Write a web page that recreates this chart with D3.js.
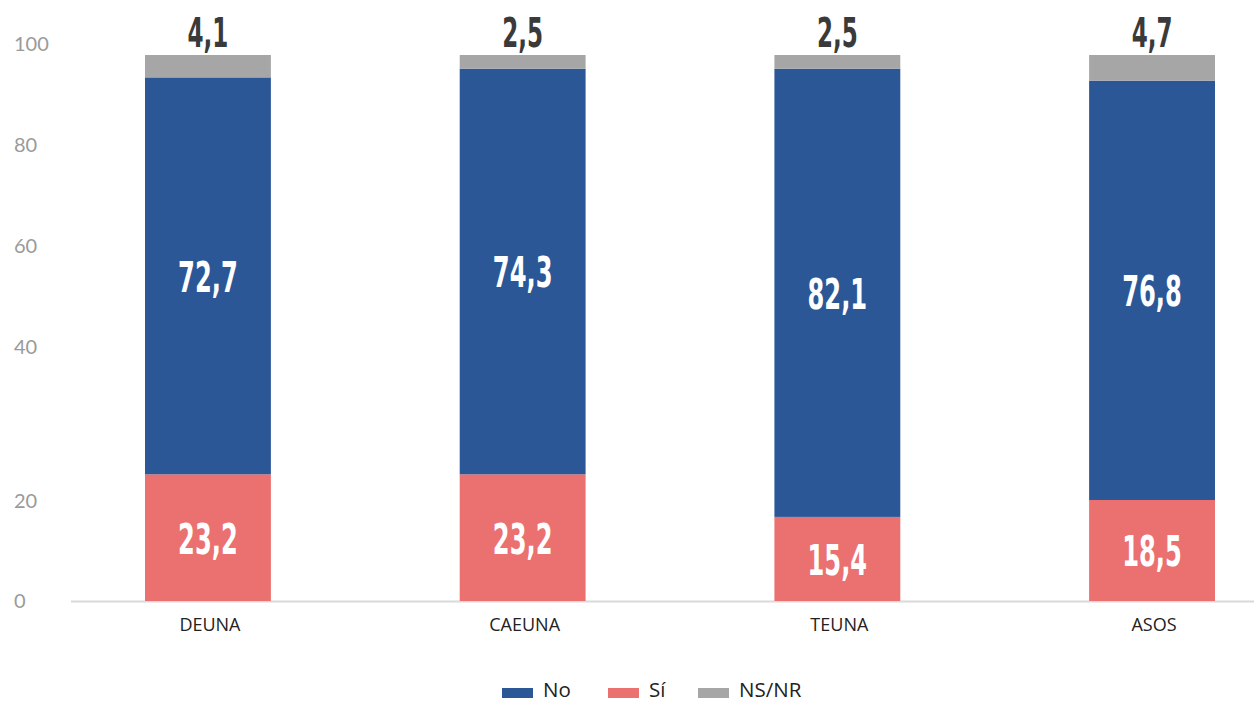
<!DOCTYPE html>
<html>
<head>
<meta charset="utf-8">
<script src="https://cdn.jsdelivr.net/npm/d3@7"></script>
<style>
  html, body { margin: 0; padding: 0; background: #fff; }
  svg { display: block; }
</style>
</head>
<body>
<svg id="chart" width="1254" height="704"></svg>
<script>
// Survey answers per group, in percent
const categories = ["DEUNA", "CAEUNA", "TEUNA", "ASOS"];
const siValues   = [23.2, 23.2, 15.4, 18.5];
const noValues   = [72.7, 74.3, 82.1, 76.8];
const nsnrValues = [4.1, 2.5, 2.5, 4.7];
const seriesNames = ["No", "Sí", "NS/NR"];
const yTickLabels = [0, 20, 40, 60, 80, 100];

const colors = { "Sí": "#eb7070", "No": "#2b5797", "NS/NR": "#a6a6a6" };

const rows = categories.map((c, i) => ({
  cat: c, "Sí": siValues[i], "No": noValues[i], "NS/NR": nsnrValues[i]
}));

// stacking order bottom to top: Sí, No, NS/NR
const stack = d3.stack().keys(["Sí", "No", "NS/NR"]);
const layers = stack(rows);

const svg = d3.select("#chart");

const x = d3.scaleBand()
  .domain(categories)
  .range([50.6, 1309.4])
  .paddingInner(0.6)
  .paddingOuter(0.3);

const y = d3.scaleLinear().domain([0, 100]).range([601, 55]);

// value-axis labels sit on their own (uneven) guide positions
const yLabel = d3.scaleLinear()
  .domain(yTickLabels)
  .range([601, 501, 347, 246, 145, 44]);

const valueFont = "'DejaVu Sans Condensed', 'DejaVu Sans', sans-serif";
const squeeze = 0.64;
const fmt = v => String(v).replace(".", ",");

// y tick labels
svg.append("g")
  .selectAll("text")
  .data(yTickLabels)
  .join("text")
  .attr("x", 14)
  .attr("y", d => yLabel(d))
  .attr("dy", "0.35em")
  .attr("font-family", "Lato, 'Open Sans', sans-serif")
  .attr("font-size", 20)
  .attr("fill", "#9a9a9a")
  .text(d => d);

// baseline
svg.append("line")
  .attr("x1", 71).attr("x2", 1254)
  .attr("y1", y(0) + 0.5).attr("y2", y(0) + 0.5)
  .attr("stroke", "#d9d9d9")
  .attr("stroke-width", 2);

// bars
const layerG = svg.append("g")
  .selectAll("g")
  .data(layers)
  .join("g")
  .attr("fill", d => colors[d.key]);

layerG.selectAll("rect")
  .data(d => d)
  .join("rect")
  .attr("x", d => x(d.data.cat))
  .attr("width", x.bandwidth())
  .attr("y", d => y(d[1]))
  .attr("height", d => y(d[0]) - y(d[1]));

// labels inside Sí and No segments
layers.filter(l => l.key !== "NS/NR").forEach(l => {
  svg.append("g")
    .selectAll("text")
    .data(l)
    .join("text")
    .attr("transform", d => {
      const cx = x(d.data.cat) + x.bandwidth() / 2;
      const cy = (y(d[0]) + y(d[1])) / 2 + 16;
      return `translate(${cx},${cy}) scale(${squeeze},1)`;
    })
    .attr("text-anchor", "middle")
    .attr("font-family", valueFont)
    .attr("font-weight", "bold")
    .attr("font-size", 42)
    .attr("fill", "#ffffff")
    .text(d => fmt(d.data[l.key]));
});

// NS/NR labels above each bar
const topLayer = layers.find(l => l.key === "NS/NR");
svg.append("g")
  .selectAll("text")
  .data(topLayer)
  .join("text")
  .attr("transform", d => {
    const cx = x(d.data.cat) + x.bandwidth() / 2;
    return `translate(${cx},${y(d[1]) - 8}) scale(${squeeze},1)`;
  })
  .attr("text-anchor", "middle")
  .attr("font-family", valueFont)
  .attr("font-weight", "bold")
  .attr("font-size", 40)
  .attr("fill", "#3a3a3a")
  .text(d => fmt(d.data["NS/NR"]));

// category labels
svg.append("g")
  .selectAll("text")
  .data(categories)
  .join("text")
  .attr("x", d => x(d) + x.bandwidth() / 2 + 2)
  .attr("y", 631)
  .attr("text-anchor", "middle")
  .attr("font-family", "'Open Sans', sans-serif")
  .attr("font-size", 18)
  .attr("fill", "#222")
  .text(d => d);

// legend
const legendX = [502, 608, 698];
const legend = svg.append("g")
  .selectAll("g")
  .data(seriesNames)
  .join("g")
  .attr("transform", (d, i) => `translate(${legendX[i]},0)`);

legend.append("rect")
  .attr("x", 0).attr("y", 688)
  .attr("width", 31).attr("height", 10)
  .attr("fill", d => colors[d]);

legend.append("text")
  .attr("x", 41).attr("y", 697)
  .attr("font-family", "'Open Sans', sans-serif")
  .attr("font-size", 20.5)
  .attr("fill", "#222")
  .text(d => d);
</script>
</body>
</html>
